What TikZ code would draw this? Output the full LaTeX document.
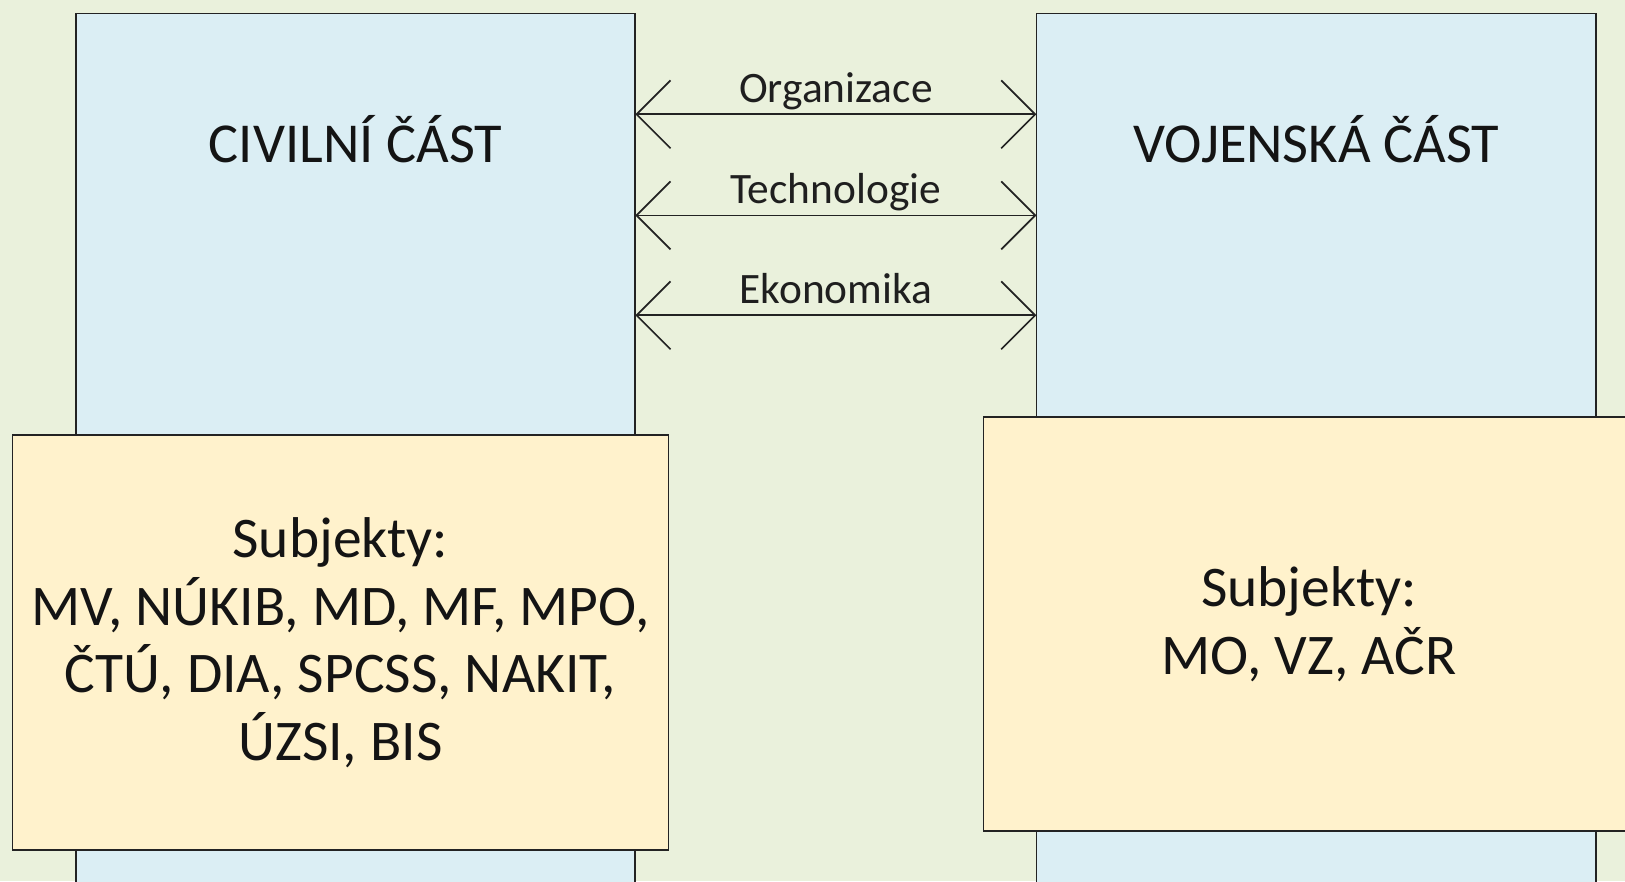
\documentclass[tikz,border=0pt]{standalone}
\usepackage{fontspec}
\setmainfont{Carlito}
\usetikzlibrary{arrows.meta}
\definecolor{bgc}{RGB}{234,241,220}
\definecolor{bluec}{RGB}{219,238,244}
\definecolor{yelc}{RGB}{255,242,204}
\definecolor{linec}{RGB}{35,35,35}
\tikzset{
  bluebox/.style={draw=linec, fill=bluec, line width=1.8pt, rectangle, inner sep=0pt, outer sep=0pt, minimum width=559.6pt, minimum height=986.5pt},
  yelbox/.style={draw=linec, fill=yelc, line width=1.8pt, rectangle, inner sep=0pt, outer sep=0pt, align=center, font=\fontsize{57.5}{67.5}\selectfont, text=black!92},
  title/.style={anchor=base, font=\fontsize{56.4}{67}\selectfont, text=black!92},
  lab/.style={anchor=base, font=\fontsize{43.4}{52}\selectfont, text=black!88},
  conn/.style={draw=linec, line width=1.7pt, arrows={Straight Barb[length=34pt,width=68pt]-Straight Barb[length=34pt,width=68pt]}}
}
\begin{document}
\begin{tikzpicture}[x=1pt,y=-1pt]
\useasboundingbox (0,0) rectangle (1625,881);
\clip (0,0) rectangle (1625,881);
\fill[bgc] (0,0) rectangle (1625,881);
% blue columns
\node[bluebox] (civil) at (355.5,506.75) {};
\node[bluebox] (mil) at (1316.2,506.75) {};
% titles
\node[title] (tciv) at (355.5,162) {CIVILNÍ ČÁST};
\node[title] (tmil) at (1316.2,162) {VOJENSKÁ ČÁST};
% yellow boxes
\node[yelbox, minimum width=656pt, minimum height=414.5pt] (ysub) at (340.4,642.5)
  {Subjekty:\\MV, NÚKIB, MD, MF, MPO,\\ČTÚ, DIA, SPCSS, NAKIT,\\ÚZSI, BIS};
\node[yelbox, minimum width=651pt, minimum height=414.6pt] (msub) at (1309,624)
  {Subjekty:\\MO, VZ, AČR};
% connector rows
\coordinate (r1) at (0,114.3);
\coordinate (r2) at (0,215.4);
\coordinate (r3) at (0,315.3);
\node[lab] (l1) at (835.9,102.5) {Organizace};
\node[lab] (l2) at (835.9,203) {Technologie};
\node[lab] (l3) at (835.9,303) {Ekonomika};
\draw[conn] (civil.east |- r1) -- (mil.west |- r1);
\draw[conn] (civil.east |- r2) -- (mil.west |- r2);
\draw[conn] (civil.east |- r3) -- (mil.west |- r3);
\end{tikzpicture}
\end{document}
